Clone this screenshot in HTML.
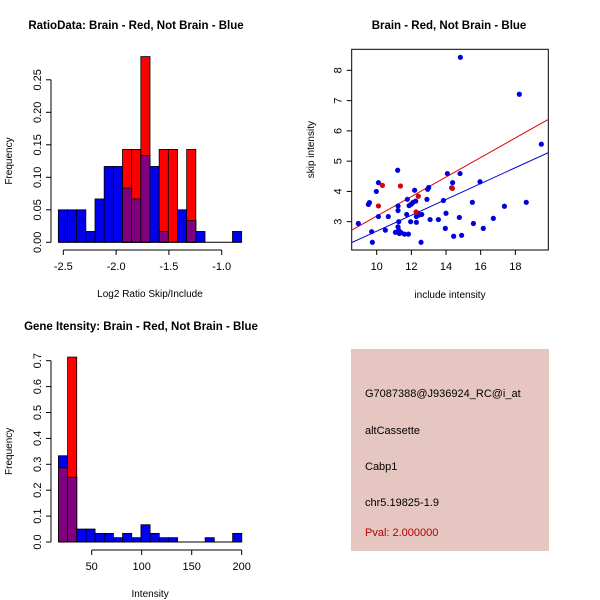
<!DOCTYPE html>
<html><head><meta charset="utf-8"><style>
html,body{margin:0;padding:0;background:#fff}
svg{display:block;font-family:"Liberation Sans",sans-serif}
</style></head><body>
<svg id="chart" width="600" height="600" viewBox="0 0 600 600" xmlns="http://www.w3.org/2000/svg">
<rect width="600" height="600" fill="#fff"/>
<text x="136" y="29" font-size="11.5" font-weight="bold" text-anchor="middle">RatioData: Brain - Red, Not Brain - Blue</text>
<text x="449" y="29" font-size="11.5" font-weight="bold" text-anchor="middle">Brain - Red, Not Brain - Blue</text>
<text x="141" y="330" font-size="11.5" font-weight="bold" text-anchor="middle">Gene Itensity: Brain - Red, Not Brain - Blue</text>
<g id="g1"></g>
<g id="g2"></g>
<g id="g3"></g>
<g>
<rect x="351" y="349" width="198" height="202" fill="#e6c6c0"/>
<text x="365" y="397" font-size="11">G7087388@J936924_RC@i_at</text>
<text x="365" y="434" font-size="11">altCassette</text>
<text x="365" y="470" font-size="11">Cabp1</text>
<text x="365" y="506" font-size="11">chr5.19825-1.9</text>
<text x="365" y="536" font-size="11" fill="#b00000">Pval: 2.000000</text>
</g>
</svg>
<script>
// Ratio histogram data
const ratioStart = -2.547, ratioWidth = 0.0868;
const ratioBlue = [0.05,0.05,0.05,0.0167,0.0667,0.1167,0.1167,0.0833,0.0667,0.1333,0.1167,0.0167,0,0.05,0.0333,0.0167,0,0,0,0.0167];
const ratioRed  = [0,0,0,0,0,0,0,0.1429,0.1429,0.2857,0,0.1429,0.1429,0,0.1429,0,0,0,0,0];
const ratioXTicks = [-2.5,-2.0,-1.5,-1.0];
const ratioYTicks = [0,0.05,0.10,0.15,0.20,0.25];
// Intensity histogram data
const intStart = 16.7, intWidth = 9.17;
const intBlue = [0.333,0.25,0.05,0.05,0.0333,0.0333,0.0167,0.0333,0.0167,0.0667,0.0333,0.0167,0.0167,0,0,0,0.0167,0,0,0.0333];
const intRed  = [0.286,0.714,0,0,0,0,0,0,0,0,0,0,0,0,0,0,0,0,0,0];
const intXTicks = [50,100,150,200];
const intYTicks = [0,0.1,0.2,0.3,0.4,0.5,0.6,0.7];
// Scatter data
const blueX = [8.94,9.52,9.58,9.71,9.75,9.98,10.10,10.10,10.67,10.50,11.21,11.23,11.23,11.27,11.23,11.27,11.08,11.31,11.40,11.60,11.83,11.73,11.77,11.87,11.96,12.00,12.10,12.19,12.25,12.29,12.29,12.37,12.44,12.60,12.56,12.90,12.94,13.00,13.08,13.56,13.85,13.96,14.00,14.08,14.33,14.38,14.44,14.77,14.81,14.83,14.90,15.52,15.58,15.96,16.15,16.73,17.37,18.23,18.63,19.50];
const blueY = [2.94,3.57,3.63,2.67,2.32,4.00,4.29,3.17,3.17,2.72,4.70,3.52,3.37,3.00,2.83,2.72,2.65,2.61,2.64,2.59,2.59,3.24,3.74,3.53,3.00,3.58,3.64,4.04,3.68,3.17,2.98,3.28,3.22,3.24,2.32,3.74,4.07,4.13,3.07,3.07,3.70,2.78,3.28,4.59,4.12,4.29,2.52,3.14,4.59,8.43,2.55,3.64,2.94,4.32,2.78,3.11,3.51,7.21,3.64,5.56];
const redX = [10.10,10.33,11.37,12.40,12.27,14.37];
const redY = [3.52,4.20,4.18,3.84,3.32,4.10];
const redFit = [-0.04,0.3226];
const blueFit = [0.067,0.262];
const scXTicks = [10,12,14,16,18];
const scYTicks = [3,4,5,6,7,8];

const NS='http://www.w3.org/2000/svg';
function mk(parent,tag,attrs,txt){const e=document.createElementNS(NS,tag);for(const k in attrs)e.setAttribute(k,attrs[k]);if(txt!==undefined)e.textContent=txt;parent.appendChild(e);return e;}

function hist(g,start,width,blue,red,xs,ys,xticks,yticks,yfmt,xlab,xy,yx,xtickY){
  const n=blue.length;
  for(let i=0;i<n;i++){
    const x0=xs(start+i*width),x1=xs(start+(i+1)*width);
    const b=blue[i],r=red[i];
    if(b>0){const e=mk(g,'rect',{x:x0,y:ys(b),width:x1-x0,height:ys(0)-ys(b),fill:'#0000ee',stroke:'#000','stroke-width':0.8});
      
      }
    if(r>0){const e=mk(g,'rect',{x:x0,y:ys(r),width:x1-x0,height:ys(0)-ys(r),fill:'#ff0000',stroke:'#000','stroke-width':0.8});
      
      }
    const m=Math.min(b,r);
    if(b>0&&r>0&&m>0){const e=mk(g,'rect',{x:x0,y:ys(m),width:x1-x0,height:ys(0)-ys(m),fill:'#800080',stroke:'#000','stroke-width':0.8});
      
      }
  }
  const bl=mk(g,'line',{x1:xs(start),x2:xs(start+n*width),y1:ys(0),y2:ys(0),stroke:'#000'});
  
  
  const xa=mk(g,'line',{x1:xs(xticks[0]),x2:xs(xticks[xticks.length-1]),y1:xtickY,y2:xtickY,stroke:'#000'});
  
  
  xticks.forEach(t=>{mk(g,'line',{x1:xs(t),x2:xs(t),y1:xtickY,y2:xtickY+5,stroke:'#000'});
    const e=mk(g,'text',{x:xs(t),y:xtickY+20,'font-size':11,'text-anchor':'middle'},Number.isInteger(t)&&Math.abs(t)>=10?String(t):t.toFixed(1));
    
    });
  const ya=mk(g,'line',{x1:yx,x2:yx,y1:ys(yticks[0]),y2:ys(yticks[yticks.length-1]),stroke:'#000'});
  
  
  yticks.forEach(t=>{mk(g,'line',{x1:yx-5,x2:yx,y1:ys(t),y2:ys(t),stroke:'#000'});
    const e=mk(g,'text',{x:0,y:0,'font-size':11,'text-anchor':'middle',transform:`translate(${yx-10},${ys(t)}) rotate(-90)`},t.toFixed(yfmt));
    
    });
  const xl=mk(g,'text',{x:(xs(start)+xs(start+n*width))/2,y:xy,'font-size':10,'text-anchor':'middle'},xlab);
  
  
  const yl=mk(g,'text',{x:0,y:0,'font-size':10,'text-anchor':'middle',transform:`translate(12,${(ys(yticks[0])+ys(yticks[yticks.length-1]))/2}) rotate(-90)`},'Frequency');
  
  
}

{
  const g=document.getElementById('g1');
  const xs=v=>63.3+(v+2.5)*105.6;
  const ys=v=>242.3-v*650;
  hist(g,ratioStart,ratioWidth,ratioBlue,ratioRed,xs,ys,ratioXTicks,ratioYTicks,2,'Log2 Ratio Skip/Include',297,51,250);
}
{
  const g=document.getElementById('g3');
  const xs=v=>91.7+(v-50)*1.0;
  const ys=v=>542-v*259;
  hist(g,intStart,intWidth,intBlue,intRed,xs,ys,intXTicks,intYTicks,1,'Intensity',597,51,550);
}
{
  const g=document.getElementById('g2');
  const xs=v=>376.7+(v-10)*17.33;
  const ys=v=>221.7-(v-3)*30.27;
  const L=351.7,R=548.3,T=49.3,B=250;
  const box=mk(g,'rect',{x:L,y:T,width:R-L,height:B-T,fill:'none',stroke:'#000'});
  
  
  scXTicks.forEach(t=>{mk(g,'line',{x1:xs(t),x2:xs(t),y1:B,y2:B+5,stroke:'#000'});
    const e=mk(g,'text',{x:xs(t),y:B+20,'font-size':11,'text-anchor':'middle'},String(t));
    
    });
  scYTicks.forEach(t=>{mk(g,'line',{x1:L-5,x2:L,y1:ys(t),y2:ys(t),stroke:'#000'});
    const e=mk(g,'text',{x:0,y:0,'font-size':11,'text-anchor':'middle',transform:`translate(${L-10},${ys(t)}) rotate(-90)`},String(t));
    
    });
  const xl=mk(g,'text',{x:(L+R)/2,y:298,'font-size':10,'text-anchor':'middle'},'include intensity');
  
  
  const yl=mk(g,'text',{x:0,y:0,'font-size':10,'text-anchor':'middle',transform:`translate(314,${(T+B)/2}) rotate(-90)`},'skip intensity');
  
  
  const clip=mk(g,'clipPath',{id:'sc'});mk(clip,'rect',{x:L,y:T,width:R-L,height:B-T});
  const x0=8.4,x1=20;
  const rl=mk(g,'line',{x1:xs(x0),y1:ys(redFit[0]+redFit[1]*x0),x2:xs(x1),y2:ys(redFit[0]+redFit[1]*x1),stroke:'#dd0000','clip-path':'url(#sc)'});
  
  
  const bln=mk(g,'line',{x1:xs(x0),y1:ys(blueFit[0]+blueFit[1]*x0),x2:xs(x1),y2:ys(blueFit[0]+blueFit[1]*x1),stroke:'#0000cc','clip-path':'url(#sc)'});
  
  
  blueX.forEach((v,i)=>{const c=mk(g,'circle',{cx:xs(v),cy:ys(blueY[i]),r:2.6,fill:'#0000dd'});
    
    });
  redX.forEach((v,i)=>{const c=mk(g,'circle',{cx:xs(v),cy:ys(redY[i]),r:2.6,fill:'#dd0000'});
    
    });
}
</script>
</body></html>
